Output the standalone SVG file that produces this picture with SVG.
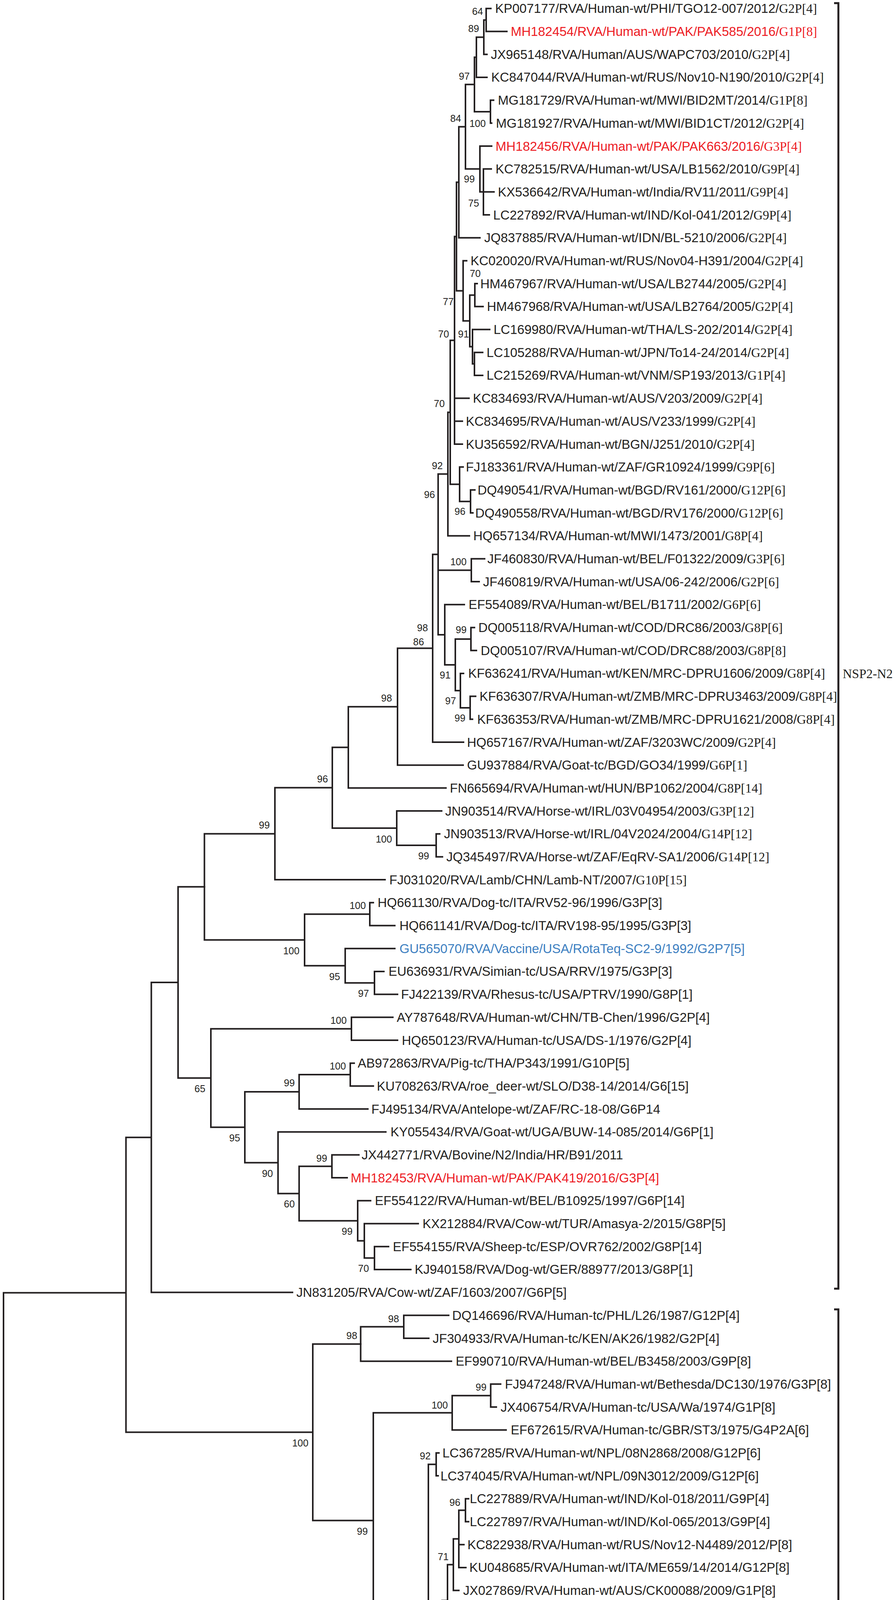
<svg xmlns="http://www.w3.org/2000/svg" width="2292" height="5289" viewBox="0 0 2292 5289">
<style>
.t{font-family:"Liberation Sans",Arial,sans-serif;font-size:33px;fill:#231f20}
.g{font-family:"Liberation Serif","Times New Roman",serif}
.b{font-family:"Liberation Sans",Arial,sans-serif;font-size:25px;fill:#231f20;text-anchor:middle}
.red{fill:#ed1c24}
.blue{fill:#3d7fc1}
.green{fill:#2e8540}
.br{stroke:#231f20;stroke-width:4;fill:none;stroke-linecap:square}
.bk{stroke:#231f20;stroke-width:5;fill:none}
.lab{font-family:"Liberation Serif","Times New Roman",serif;font-size:33px;fill:#231f20}
</style>
<rect width="2292" height="5289" fill="#fff"/>
<g id="connectors" class="br">
<path d="M1245 21.8V80.5M1245 21.8H1257M1245 80.5H1298M1239 51.2V139.2M1239 51.2H1245M1239 139.2H1247M1220 95.2V197.9M1220 95.2H1239M1220 197.9H1247M1256 256.6V315.3M1256 256.6H1264M1256 315.3H1259M1215 146.5V286M1215 146.5H1220M1215 286H1256M1238 432.6V550M1238 432.6H1258M1238 491.3H1265M1238 550H1253M1229 374V491.3M1229 374H1259M1229 491.3H1238M1192 216.2V432.6M1192 216.2H1215M1192 432.6H1229M1175 324.4V608.7M1175 324.4H1192M1175 608.7H1229"/>
<path d="M1216 726.1V784.8M1216 726.1H1222M1216 784.8H1237M1215 902.2V960.9M1215 902.2H1236M1215 960.9H1236M1210 843.5V931.5M1210 843.5H1254M1210 931.5H1215M1203 755.5V887.5M1203 755.5H1216M1203 887.5H1210M1186 667.4V821.5M1186 667.4H1195M1186 821.5H1203M1169 466.5V744.5M1169 466.5H1175M1169 744.5H1186M1164 605.5V1137M1164 605.5H1169M1164 1019.6H1201M1164 1078.3H1184M1164 1137H1184"/>
<path d="M1205 1254.3V1313M1205 1254.3H1216M1205 1313H1211M1177 1195.6V1283.7M1177 1195.6H1186M1177 1283.7H1205M1153 871.3V1239.7M1153 871.3H1164M1153 1239.7H1177M1147 1055.5V1371.7M1147 1055.5H1153M1147 1371.7H1202M1207 1430.4V1489.1M1207 1430.4H1241M1207 1489.1H1227M1206 1606.5V1665.2M1206 1606.5H1215M1206 1665.2H1220M1204 1782.6V1841.3M1204 1782.6H1218M1204 1841.3H1210M1179 1723.9V1812M1179 1723.9H1187M1179 1812H1204M1166 1635.9V1768M1166 1635.9H1206M1166 1768H1179M1139 1547.8V1702M1139 1547.8H1189M1139 1702H1166M1122 1213.6V1624.9M1122 1213.6H1147M1122 1459.8H1207M1122 1624.9H1139M1108 1419.3V1900M1108 1419.3H1122M1108 1900H1187M1018 1659.6V1958.7M1018 1659.6H1108M1018 1958.7H1186M892 1809.2V2017.3M892 1809.2H1018M892 2017.3H1142"/>
<path d="M1117 2134.7V2193.4M1117 2134.7H1126M1117 2193.4H1133M1016 2076V2164M1016 2076H1131M1016 2164H1117M851 1913.3V2120M851 1913.3H892M851 2120H1016M704 2016.6V2252.1M704 2016.6H851M704 2252.1H986M947 2310.8V2369.5M947 2310.8H956M947 2369.5H1011M959 2486.9V2545.6M959 2486.9H983M959 2545.6H1018M884 2428.2V2516.2M884 2428.2H1011M884 2516.2H959M780 2340.2V2472.2M780 2340.2H947M780 2472.2H884M523.5 2134.4V2406.2M523.5 2134.4H704M523.5 2406.2H780"/>
<path d="M900 2604.3V2663M900 2604.3H1006M900 2663H1018M897 2721.7V2780.3M897 2721.7H907M897 2780.3H956M766 2751V2839M766 2751H897M766 2839H942M850 2956.4V3015.1M850 2956.4H919M850 3015.1H889M959 3191.2V3249.9M959 3191.2H995M959 3249.9H1052M933 3132.5V3220.5M933 3132.5H1071M933 3220.5H959M916 3073.8V3176.5M916 3073.8H949M916 3176.5H933M766 2985.8V3125.2M766 2985.8H850M766 3125.2H916M712 2897.7V3055.5M712 2897.7H988M712 3055.5H766M627 2795V2976.6M627 2795H766M627 2976.6H712M540 2633.7V2885.8M540 2633.7H900M540 2885.8H627M456 2270.3V2759.8M456 2270.3H523.5M456 2759.8H540M387.5 2515V3308.6M387.5 2515H456M387.5 3308.6H749M322.6 2911.8V3666.6M322.6 2911.8H387.5M322.6 3666.6H801M9 3309.5H322.6M9 3309.5V5209M9 5209H1307"/>
<path d="M1034 3367.3V3426M1034 3367.3H1149M1034 3426H1098M923.6 3396.6V3484.7M923.6 3396.6H1034M923.6 3484.7H1156M1256.6 3543.3V3602M1256.6 3543.3H1282M1256.6 3602H1271M1158 3572.7V3660.7M1158 3572.7H1256.6M1158 3660.7H1296M1117 3719.4V3778.1M1117 3719.4H1124M1117 3778.1H1122M1192 3836.8V3895.5M1192 3836.8H1200M1192 3895.5H1200M1175 3866.2V4012.9M1175 3866.2H1192M1175 3954.2H1188M1175 4012.9H1193M1161 3939.5V4071.6M1161 3939.5H1175M1161 4071.6H1175M1167 4130.3V4247.7M1167 4130.3H1186M1167 4189H1172M1167 4247.7H1207M1146 4005.6V4189M1146 4005.6H1161M1146 4189H1167"/>
<path d="M1150 4365V4423.7M1150 4365H1153M1150 4423.7H1153M1143 4306.3V4394.4M1143 4306.3H1168M1143 4394.4H1150M1132 4097.3V4350.4M1132 4097.3H1146M1132 4350.4H1143M1155 4482.4V4599.8M1155 4482.4H1168M1155 4541.1H1161M1155 4599.8H1168M1150 4541.1V4775.9M1150 4541.1H1155M1150 4658.5H1196M1150 4717.2H1155M1150 4775.9H1168M1155 5010.7V5128M1155 5010.7H1163M1155 5069.3H1160M1155 5128H1168M1143 4834.6V5069.3M1143 4834.6H1155M1143 4893.3H1155M1143 4952H1148M1143 5069.3H1155M1127 4223.8V4952M1127 4223.8H1132M1127 4658.5H1150M1127 4952H1143M1097 3748.8V4587.9M1097 3748.8H1117M1097 4587.9H1127M956 3616.7V4168.4M956 3616.7H1158M956 4168.4H1097M801 3440.7V3892.5M801 3440.7H923.6M801 3892.5H956"/>
</g>
<g id="nodes">
<g id="n1"><text class="t" x="1268" y="33.3">KP007177/RVA/Human-wt/PHI/TGO12-007/2012/<tspan class="g">G2P[4]</tspan></text></g>
<g id="n2"><text class="t red" x="1308" y="92">MH182454/RVA/Human-wt/PAK/PAK585/2016/<tspan class="g">G1P[8]</tspan></text></g>
<g id="n3"><text class="t" x="1257" y="150.7">JX965148/RVA/Human/AUS/WAPC703/2010/<tspan class="g">G2P[4]</tspan></text></g>
<g id="n4"><text class="t" x="1258" y="209.4">KC847044/RVA/Human-wt/RUS/Nov10-N190/2010/<tspan class="g">G2P[4]</tspan></text></g>
<g id="n5"><text class="t" x="1275" y="268.1">MG181729/RVA/Human-wt/MWI/BID2MT/2014/<tspan class="g">G1P[8]</tspan></text></g>
<g id="n6"><text class="t" x="1270" y="326.8">MG181927/RVA/Human-wt/MWI/BID1CT/2012/<tspan class="g">G2P[4]</tspan></text></g>
<g id="n7"><text class="t red" x="1269" y="385.5">MH182456/RVA/Human-wt/PAK/PAK663/2016/<tspan class="g">G3P[4]</tspan></text></g>
<g id="n8"><text class="t" x="1269" y="444.1">KC782515/RVA/Human-wt/USA/LB1562/2010/<tspan class="g">G9P[4]</tspan></text></g>
<g id="n9"><text class="t" x="1275" y="502.8">KX536642/RVA/Human-wt/India/RV11/2011/<tspan class="g">G9P[4]</tspan></text></g>
<g id="n10"><text class="t" x="1263" y="561.5">LC227892/RVA/Human-wt/IND/Kol-041/2012/<tspan class="g">G9P[4]</tspan></text></g>
<g id="n11"><text class="t" x="1240" y="620.2">JQ837885/RVA/Human-wt/IDN/BL-5210/2006/<tspan class="g">G2P[4]</tspan></text></g>
<g id="n12"><text class="t" x="1205" y="678.9">KC020020/RVA/Human-wt/RUS/Nov04-H391/2004/<tspan class="g">G2P[4]</tspan></text></g>
<g id="n13"><text class="t" x="1230" y="737.6">HM467967/RVA/Human-wt/USA/LB2744/2005/<tspan class="g">G2P[4]</tspan></text></g>
<g id="n14"><text class="t" x="1247" y="796.3">HM467968/RVA/Human-wt/USA/LB2764/2005/<tspan class="g">G2P[4]</tspan></text></g>
<g id="n15"><text class="t" x="1264" y="855">LC169980/RVA/Human-wt/THA/LS-202/2014/<tspan class="g">G2P[4]</tspan></text></g>
<g id="n16"><text class="t" x="1246" y="913.7">LC105288/RVA/Human-wt/JPN/To14-24/2014/<tspan class="g">G2P[4]</tspan></text></g>
<g id="n17"><text class="t" x="1246" y="972.4">LC215269/RVA/Human-wt/VNM/SP193/2013/<tspan class="g">G1P[4]</tspan></text></g>
<g id="n18"><text class="t" x="1211" y="1031.1">KC834693/RVA/Human-wt/AUS/V203/2009/<tspan class="g">G2P[4]</tspan></text></g>
<g id="n19"><text class="t" x="1193" y="1089.8">KC834695/RVA/Human-wt/AUS/V233/1999/<tspan class="g">G2P[4]</tspan></text></g>
<g id="n20"><text class="t" x="1193" y="1148.5">KU356592/RVA/Human-wt/BGN/J251/2010/<tspan class="g">G2P[4]</tspan></text></g>
<g id="n21"><text class="t" x="1193" y="1207.1">FJ183361/RVA/Human-wt/ZAF/GR10924/1999/<tspan class="g">G9P[6]</tspan></text></g>
<g id="n22"><text class="t" x="1223" y="1265.8">DQ490541/RVA/Human-wt/BGD/RV161/2000/<tspan class="g">G12P[6]</tspan></text></g>
<g id="n23"><text class="t" x="1217" y="1324.5">DQ490558/RVA/Human-wt/BGD/RV176/2000/<tspan class="g">G12P[6]</tspan></text></g>
<g id="n24"><text class="t" x="1212" y="1383.2">HQ657134/RVA/Human-wt/MWI/1473/2001/<tspan class="g">G8P[4]</tspan></text></g>
<g id="n25"><text class="t" x="1248" y="1441.9">JF460830/RVA/Human-wt/BEL/F01322/2009/<tspan class="g">G3P[6]</tspan></text></g>
<g id="n26"><text class="t" x="1237" y="1500.6">JF460819/RVA/Human-wt/USA/06-242/2006/<tspan class="g">G2P[6]</tspan></text></g>
<g id="n27"><text class="t" x="1200" y="1559.3">EF554089/RVA/Human-wt/BEL/B1711/2002/<tspan class="g">G6P[6]</tspan></text></g>
<g id="n28"><text class="t" x="1225" y="1618">DQ005118/RVA/Human-wt/COD/DRC86/2003/<tspan class="g">G8P[6]</tspan></text></g>
<g id="n29"><text class="t" x="1231" y="1676.7">DQ005107/RVA/Human-wt/COD/DRC88/2003/<tspan class="g">G8P[8]</tspan></text></g>
<g id="n30"><text class="t" x="1199" y="1735.4">KF636241/RVA/Human-wt/KEN/MRC-DPRU1606/2009/<tspan class="g">G8P[4]</tspan></text></g>
<g id="n31"><text class="t" x="1228" y="1794.1">KF636307/RVA/Human-wt/ZMB/MRC-DPRU3463/2009/<tspan class="g">G8P[4]</tspan></text></g>
<g id="n32"><text class="t" x="1222" y="1852.8">KF636353/RVA/Human-wt/ZMB/MRC-DPRU1621/2008/<tspan class="g">G8P[4]</tspan></text></g>
<g id="n33"><text class="t" x="1196" y="1911.5">HQ657167/RVA/Human-wt/ZAF/3203WC/2009/<tspan class="g">G2P[4]</tspan></text></g>
<g id="n34"><text class="t" x="1196" y="1970.2">GU937884/RVA/Goat-tc/BGD/GO34/1999/<tspan class="g">G6P[1]</tspan></text></g>
<g id="n35"><text class="t" x="1152" y="2028.8">FN665694/RVA/Human-wt/HUN/BP1062/2004/<tspan class="g">G8P[14]</tspan></text></g>
<g id="n36"><text class="t" x="1140" y="2087.5">JN903514/RVA/Horse-wt/IRL/03V04954/2003/<tspan class="g">G3P[12]</tspan></text></g>
<g id="n37"><text class="t" x="1137" y="2146.2">JN903513/RVA/Horse-wt/IRL/04V2024/2004/<tspan class="g">G14P[12]</tspan></text></g>
<g id="n38"><text class="t" x="1143" y="2204.9">JQ345497/RVA/Horse-wt/ZAF/EqRV-SA1/2006/<tspan class="g">G14P[12]</tspan></text></g>
<g id="n39"><text class="t" x="997" y="2263.6">FJ031020/RVA/Lamb/CHN/Lamb-NT/2007/<tspan class="g">G10P[15]</tspan></text></g>
<g id="n40"><text class="t" x="967" y="2322.3">HQ661130/RVA/Dog-tc/ITA/RV52-96/1996/G3P[3]</text></g>
<g id="n41"><text class="t" x="1023" y="2381">HQ661141/RVA/Dog-tc/ITA/RV198-95/1995/G3P[3]</text></g>
<g id="n42"><text class="t blue" x="1023" y="2439.7">GU565070/RVA/Vaccine/USA/RotaTeq-SC2-9/1992/G2P7[5]</text></g>
<g id="n43"><text class="t" x="995" y="2498.4">EU636931/RVA/Simian-tc/USA/RRV/1975/G3P[3]</text></g>
<g id="n44"><text class="t" x="1027" y="2557.1">FJ422139/RVA/Rhesus-tc/USA/PTRV/1990/G8P[1]</text></g>
<g id="n45"><text class="t" x="1016" y="2615.8">AY787648/RVA/Human-wt/CHN/TB-Chen/1996/G2P[4]</text></g>
<g id="n46"><text class="t" x="1029" y="2674.5">HQ650123/RVA/Human-tc/USA/DS-1/1976/G2P[4]</text></g>
<g id="n47"><text class="t" x="916" y="2733.2">AB972863/RVA/Pig-tc/THA/P343/1991/G10P[5]</text></g>
<g id="n48"><text class="t" x="965" y="2791.8">KU708263/RVA/roe_deer-wt/SLO/D38-14/2014/G6[15]</text></g>
<g id="n49"><text class="t" x="951" y="2850.5">FJ495134/RVA/Antelope-wt/ZAF/RC-18-08/G6P14</text></g>
<g id="n50"><text class="t" x="1000" y="2909.2">KY055434/RVA/Goat-wt/UGA/BUW-14-085/2014/G6P[1]</text></g>
<g id="n51"><text class="t" x="926" y="2967.9">JX442771/RVA/Bovine/N2/India/HR/B91/2011</text></g>
<g id="n52"><text class="t red" x="898" y="3026.6">MH182453/RVA/Human-wt/PAK/PAK419/2016/G3P[4]</text></g>
<g id="n53"><text class="t" x="960" y="3085.3">EF554122/RVA/Human-wt/BEL/B10925/1997/G6P[14]</text></g>
<g id="n54"><text class="t" x="1082" y="3144">KX212884/RVA/Cow-wt/TUR/Amasya-2/2015/G8P[5]</text></g>
<g id="n55"><text class="t" x="1006" y="3202.7">EF554155/RVA/Sheep-tc/ESP/OVR762/2002/G8P[14]</text></g>
<g id="n56"><text class="t" x="1062" y="3261.4">KJ940158/RVA/Dog-wt/GER/88977/2013/G8P[1]</text></g>
<g id="n57"><text class="t" x="759" y="3320.1">JN831205/RVA/Cow-wt/ZAF/1603/2007/G6P[5]</text></g>
<g id="n58"><text class="t" x="1158" y="3378.8">DQ146696/RVA/Human-tc/PHL/L26/1987/G12P[4]</text></g>
<g id="n59"><text class="t" x="1108" y="3437.5">JF304933/RVA/Human-tc/KEN/AK26/1982/G2P[4]</text></g>
<g id="n60"><text class="t" x="1167" y="3496.2">EF990710/RVA/Human-wt/BEL/B3458/2003/G9P[8]</text></g>
<g id="n61"><text class="t" x="1293" y="3554.8">FJ947248/RVA/Human-wt/Bethesda/DC130/1976/G3P[8]</text></g>
<g id="n62"><text class="t" x="1282" y="3613.5">JX406754/RVA/Human-tc/USA/Wa/1974/G1P[8]</text></g>
<g id="n63"><text class="t" x="1308" y="3672.2">EF672615/RVA/Human-tc/GBR/ST3/1975/G4P2A[6]</text></g>
<g id="n64"><text class="t" x="1133" y="3730.9">LC367285/RVA/Human-wt/NPL/08N2868/2008/G12P[6]</text></g>
<g id="n65"><text class="t" x="1128" y="3789.6">LC374045/RVA/Human-wt/NPL/09N3012/2009/G12P[6]</text></g>
<g id="n66"><text class="t" x="1203" y="3848.3">LC227889/RVA/Human-wt/IND/Kol-018/2011/G9P[4]</text></g>
<g id="n67"><text class="t" x="1203" y="3907">LC227897/RVA/Human-wt/IND/Kol-065/2013/G9P[4]</text></g>
<g id="n68"><text class="t" x="1197" y="3965.7">KC822938/RVA/Human-wt/RUS/Nov12-N4489/2012/P[8]</text></g>
<g id="n69"><text class="t" x="1202" y="4024.4">KU048685/RVA/Human-wt/ITA/ME659/14/2014/G12P[8]</text></g>
<g id="n70"><text class="t" x="1186" y="4083.1">JX027869/RVA/Human-wt/AUS/CK00088/2009/G1P[8]</text></g>
<g id="n71"><text class="t red" x="1197" y="4141.8">MH182455/RVA/Human-wt/PAK/PAK622/2015/G3P[8]</text></g>
<g id="n72"><text class="t" x="1180" y="4200.5">HQ392400/RVA/Human-wt/BEL/BE00045/2009/G1[P8]</text></g>
<g id="n73"><text class="t red" x="1218" y="4259.2">MH182452/RVA/Human-wt/PAK/PAK56/2015/G9P[8]</text></g>
<g id="n74"><text class="t" x="1178" y="4317.8">DQ146645/RVA/Human-wt/BEL/B4633/2003/G12P[8]</text></g>
<g id="n75"><text class="t" x="1161" y="4376.5">KU048689/RVA/Human-wt/ITA/PA542/12/2012/G12P[8]</text></g>
<g id="n76"><text class="t" x="1161" y="4435.2">KU048694/RVA/Human-wt/ITA/ME864/12/2012/G12P[8]</text></g>
<g id="n77"><text class="t" x="1178" y="4493.9">DQ492676/RVA/Human-wt/BGD/Dhaka16/2003/G1P[8]</text></g>
<g id="n78"><text class="t" x="1174" y="4552.6">GU199510/RVA/Human-wt/BGD/Matlab36/2002/G11P[8]</text></g>
<g id="n79"><text class="t" x="1178" y="4611.3">EF560709/RVA/Human-wt/BGD/Dhaka6/2001/G11P[25]</text></g>
<g id="n80"><text class="t" x="1207" y="4670">KX655535/RVA/Cow-wt/UGA/BUW-14-A035/2014/G12P[8]</text></g>
<g id="n81"><text class="t" x="1167" y="4728.7">DQ146656/RVA/Human-wt/BGD/Dhaka25/2002/G12P[8]</text></g>
<g id="n82"><text class="t" x="1178" y="4787.4">DQ146689/RVA/Human-wt/BGD/N26/2002/G12P[6]</text></g>
<g id="n83"><text class="t" x="1167" y="4846.1">KF371715/RVA/Human-wt/CHN/723/2003/G3P[8]</text></g>
<g id="n84"><text class="t" x="1167" y="4904.8">KC155677/RVA/Human/RUS/Nov09-B28/2009/G1P[8]</text></g>
<g id="n85"><text class="t" x="1155" y="4963.5">KF371673/RVA/Human-tc/CHN/L148/2004/G3P[8]</text></g>
<g id="n86"><text class="t" x="1174" y="5022.2">KF371933/RVA/Human-wt/CHN/L1621/2013/G3P[8[</text></g>
<g id="n87"><text class="t" x="1167" y="5080.8">KF371880/RVA/Human-wt/CHN/E3239/2012/G3P[8]</text></g>
<g id="n88"><text class="t" x="1178" y="5139.5">MF469164/RVA/Human-wt/USA/SSCRTV_00018/2013/G3P[8]</text></g>
<g id="n89"><text class="t green" x="1310" y="5220.5">K02033/RVA/Human-tc/USA/Wa/1974/G1P1A[8]</text></g>
</g>
<g id="support">
<text class="b" x="1223" y="37.7">64</text>
<text class="b" x="1213" y="82">89</text>
<text class="b" x="1189" y="203.5">97</text>
<text class="b" x="1223" y="324.7">100</text>
<text class="b" x="1167" y="312">84</text>
<text class="b" x="1202" y="467">99</text>
<text class="b" x="1213" y="529">75</text>
<text class="b" x="1217" y="708.6">70</text>
<text class="b" x="1148" y="780.7">77</text>
<text class="b" x="1136" y="863.6">70</text>
<text class="b" x="1187" y="863.6">91</text>
<text class="b" x="1125" y="1042">70</text>
<text class="b" x="1120" y="1200.5">92</text>
<text class="b" x="1100" y="1274.6">96</text>
<text class="b" x="1178" y="1318.4">96</text>
<text class="b" x="1174" y="1446.7">100</text>
<text class="b" x="1082" y="1616">98</text>
<text class="b" x="1072" y="1651.5">86</text>
<text class="b" x="1181" y="1621">99</text>
<text class="b" x="1140" y="1736.6">91</text>
<text class="b" x="1154" y="1802.6">97</text>
<text class="b" x="1178" y="1846.7">99</text>
<text class="b" x="990" y="1796">98</text>
<text class="b" x="826" y="2003">96</text>
<text class="b" x="983" y="2156.7">100</text>
<text class="b" x="1085" y="2200">99</text>
<text class="b" x="677" y="2121.3">99</text>
<text class="b" x="916" y="2326.8">100</text>
<text class="b" x="746" y="2442.7">100</text>
<text class="b" x="857" y="2508.7">95</text>
<text class="b" x="931" y="2552">97</text>
<text class="b" x="867" y="2620.7">100</text>
<text class="b" x="865" y="2738.3">100</text>
<text class="b" x="741" y="2781.4">99</text>
<text class="b" x="512" y="2795.7">65</text>
<text class="b" x="601" y="2922">95</text>
<text class="b" x="685" y="3012.7">90</text>
<text class="b" x="824" y="2973.7">99</text>
<text class="b" x="741" y="3091.4">60</text>
<text class="b" x="889" y="3161">99</text>
<text class="b" x="931" y="3256">70</text>
<text class="b" x="1008" y="3384.7">98</text>
<text class="b" x="901" y="3428">98</text>
<text class="b" x="769" y="3703.2">100</text>
<text class="b" x="1126" y="3605.5">100</text>
<text class="b" x="1232" y="3559.5">99</text>
<text class="b" x="928" y="3929">99</text>
<text class="b" x="1089" y="3736">92</text>
<text class="b" x="1165" y="3854.6">96</text>
<text class="b" x="1135" y="3993.5">71</text>
<text class="b" x="1189" y="4234.6">81</text>
<text class="b" x="1071" y="4205">99</text>
<text class="b" x="1075" y="4380">90</text>
<text class="b" x="1075" y="4426">92</text>
<text class="b" x="1100" y="4623.7">61</text>
<text class="b" x="1100" y="4676">75</text>
<text class="b" x="1117" y="4989">78</text>
<text class="b" x="1131" y="5107">75</text>
</g>
<g id="groups">
<path class="bk" d="M2136 8H2147V3299H2136"/>
<text class="lab" x="2158" y="1736">NSP2-N2</text>
<path class="bk" d="M2136 3352H2147V5140H2136"/>
<text class="lab" x="2158" y="4201">NSP2-N1</text>
<path d="M2039.5 5179V5239" stroke="#231f20" stroke-width="3"/>
<text class="lab" x="2048" y="5220.5">As Outgroup</text>
</g>
<g id="scale">
<path class="br" d="M801 5233V5257M801 5245H922M922 5233V5257"/>
<text class="b" x="861" y="5282" style="font-size:27px">0.02</text>
</g>
</svg>
